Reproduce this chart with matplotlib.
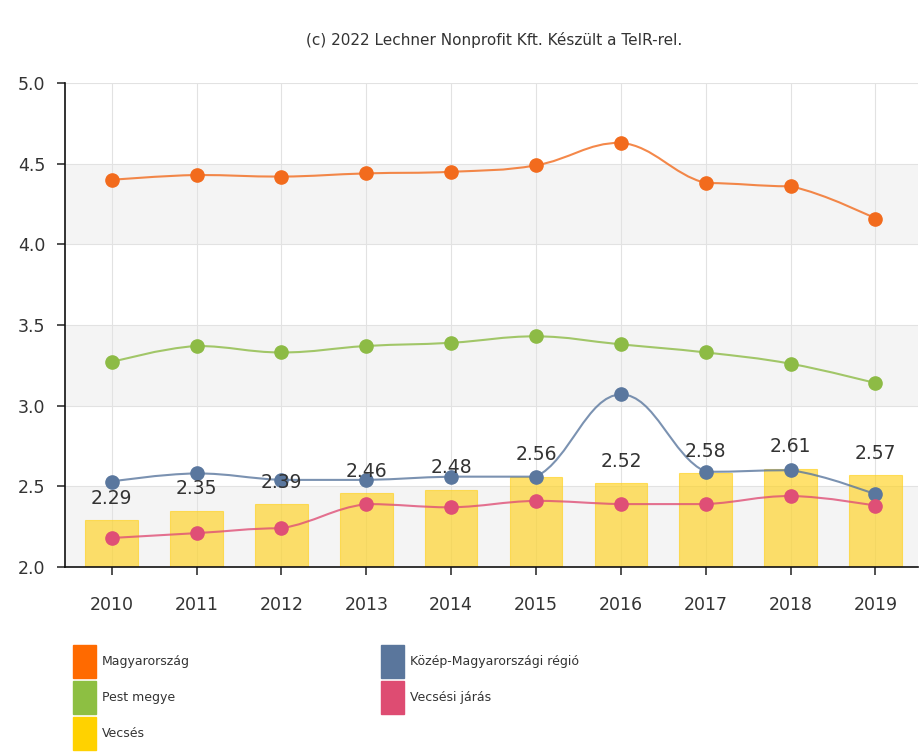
import numpy as np
import matplotlib
matplotlib.use("Agg")
import matplotlib.pyplot as plt
from matplotlib.path import Path
from matplotlib.patches import PathPatch, Patch

years = ["2010", "2011", "2012", "2013", "2014", "2015", "2016", "2017", "2018", "2019"]
vecses = [2.29, 2.35, 2.39, 2.46, 2.48, 2.56, 2.52, 2.58, 2.61, 2.57]
magyarorszag = [4.40, 4.43, 4.42, 4.44, 4.45, 4.49, 4.63, 4.38, 4.36, 4.16]
pest_megye = [3.27, 3.37, 3.33, 3.37, 3.39, 3.43, 3.38, 3.33, 3.26, 3.14]
kozep_regio = [2.53, 2.58, 2.54, 2.54, 2.56, 2.56, 3.07, 2.59, 2.60, 2.45]
vecsesi_jaras = [2.18, 2.21, 2.24, 2.39, 2.37, 2.41, 2.39, 2.39, 2.44, 2.38]

C_ORANGE = "#f26b1d"
C_GREEN = "#8dbb45"
C_BLUE = "#5a779e"
C_PINK = "#df4f76"
C_YELLOW = "#ffd21f"


def spline_path(x, y, smooth=1.5):
    """Highcharts-like spline: cubic bezier segments through the points."""
    verts = [(x[0], y[0])]
    codes = [Path.MOVETO]
    n = len(x)
    for i in range(1, n):
        cx, cy = x[i - 1], y[i - 1]
        nx, ny = x[i], y[i]
        # control point leaving the previous point
        if i - 1 > 0:
            px, py = x[i - 2], y[i - 2]
            lx = (smooth * cx + nx) / (smooth + 1)
            ly = (smooth * cy + ny) / (smooth + 1)
            bx = (smooth * cx + px) / (smooth + 1)
            by = (smooth * cy + py) / (smooth + 1)
            corr = ((ly - by) * (cx - bx)) / (lx - bx) + by - cy
            c1 = (lx, ly - corr)
            if (ly - corr > cy and ly - corr > ny) or (ly - corr < cy and ly - corr < ny):
                c1 = (lx, cy)
        else:
            c1 = (cx, cy)
        # control point entering the current point
        if i < n - 1:
            qx, qy = x[i + 1], y[i + 1]
            bx = (smooth * nx + cx) / (smooth + 1)
            by = (smooth * ny + cy) / (smooth + 1)
            rx = (smooth * nx + qx) / (smooth + 1)
            ry = (smooth * ny + qy) / (smooth + 1)
            corr = ((ry - by) * (nx - bx)) / (rx - bx) + by - ny
            c2 = (bx, by - corr)
            if (by - corr > cy and by - corr > ny) or (by - corr < cy and by - corr < ny):
                c2 = (bx, ny)
        else:
            c2 = (nx, ny)
        verts += [c1, c2, (nx, ny)]
        codes += [Path.CURVE4, Path.CURVE4, Path.CURVE4]
    return Path(verts, codes)


fig = plt.figure(figsize=(9.2, 7.55), dpi=100)
ax = fig.add_axes([0.0707, 0.249, 0.927, 0.641])
xs = np.arange(len(years))

ax.set_xlim(-0.55, 9.5)
ax.set_ylim(2.0, 5.0)

# alternating bands
for lo in (2.0, 3.0, 4.0):
    ax.axhspan(lo, lo + 0.5, color="#f4f4f4", zorder=0, lw=0)
ax.set_yticks([2.0, 2.5, 3.0, 3.5, 4.0, 4.5, 5.0])
ax.set_yticklabels(["2.0", "2.5", "3.0", "3.5", "4.0", "4.5", "5.0"])
ax.set_xticks(xs)
ax.set_xticklabels(years)
ax.grid(True, color="#e2e2e2", lw=0.8, zorder=0.5)
ax.set_axisbelow(True)

ax.bar(xs, [v - 2.0 for v in vecses], bottom=2.0, width=0.62, color=C_YELLOW,
       alpha=0.65, edgecolor="#ffd21f", lw=0.8, zorder=2)
for x, v in zip(xs, vecses):
    ax.text(x, v + 0.135, f"{v:.2f}", ha="center", va="center", fontsize=13.5,
            color="#333333", zorder=6)

for vals, col in [(magyarorszag, C_ORANGE), (pest_megye, C_GREEN),
                  (kozep_regio, C_BLUE), (vecsesi_jaras, C_PINK)]:
    ax.add_patch(PathPatch(spline_path(list(xs), vals), fill=False, edgecolor=col,
                           lw=1.5, alpha=0.8, zorder=3))
    ax.plot(xs, vals, ls="none", marker="o", ms=9.5, color=col, zorder=4)

for s in ("top", "right"):
    ax.spines[s].set_visible(False)
for s in ("left", "bottom"):
    ax.spines[s].set_color("#111111")
    ax.spines[s].set_linewidth(1.2)
ax.tick_params(axis="both", labelsize=12.5, colors="#333333", length=6, width=1.2,
               direction="out")
ax.tick_params(axis="x", pad=15)
ax.tick_params(axis="y", pad=8)

fig.text(0.537, 0.947, "(c) 2022 Lechner Nonprofit Kft. Készült a TeIR-rel.",
         ha="center", va="center", fontsize=11, color="#333333")

handles = [Patch(color="#ff6a00"), Patch(color="#8dbf42"), Patch(color="#ffd200"),
           Patch(color="#5a769c"), Patch(color="#de4c72")]
labels = ["Magyarország", "Pest megye", "Vecsés", "Közép-Magyarországi régió", "Vecsési járás"]
leg = fig.legend(handles, labels, loc="upper left", bbox_to_anchor=(0.079, 0.146),
                 ncol=2, frameon=False, fontsize=9, handlelength=1.84, handleheight=3.69,
                 handletextpad=0.5, columnspacing=15.3, labelspacing=0.23,
                 borderaxespad=0, borderpad=0)
for t in leg.get_texts():
    t.set_color("#333333")

fig.savefig("out.png", dpi=100)
